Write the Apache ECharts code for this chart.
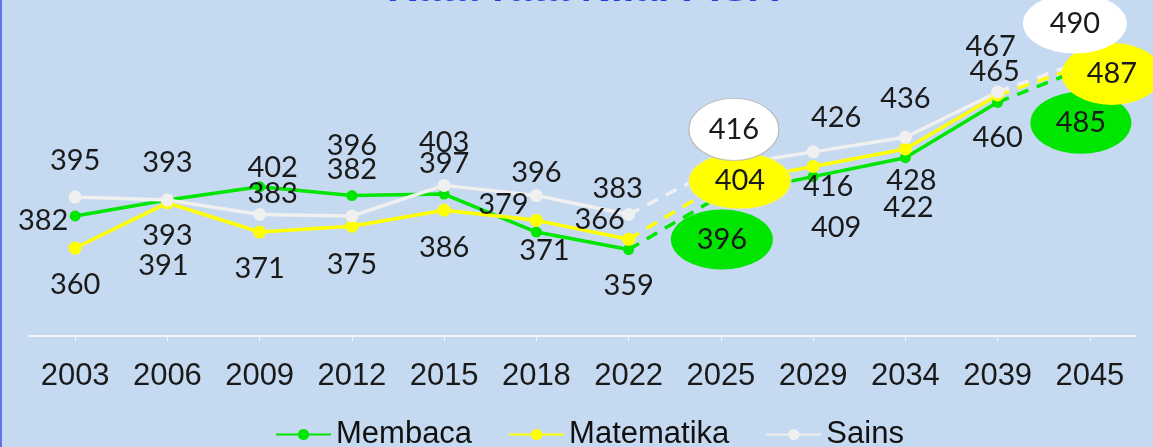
<!DOCTYPE html>
<html>
<head>
<meta charset="utf-8">
<script src="https://cdn.jsdelivr.net/npm/echarts@6/dist/echarts.min.js"></script>
<style>
html,body{margin:0;padding:0;background:#c5d9f0;}
#c{width:1153px;height:447px;}
</style>
</head>
<body>
<div id="c"></div>
<script>
// ---------- data ----------
const years = ['2003','2006','2009','2012','2015','2018','2022','2025','2029','2034','2039','2045'];
const membaca    = [382,393,402,396,397,371,359,396,409,422,460,485];
const matematika = [360,391,371,375,386,379,366,404,416,428,465,487];
const sains      = [395,393,383,382,403,396,383,416,426,436,467,490];
const seriesNames = ['Membaca','Matematika','Sains'];
const titleText = 'Rata-rata Nilai PISA';

// ---------- styling ----------
const colors = {Membaca:'#00e600', Matematika:'#ffff00', Sains:'#f0f0f0'};
const bubbleColors = {Membaca:'#00e600', Matematika:'#ffff00', Sains:'#ffffff'};
const symbolSizes = {Membaca:11, Matematika:13, Sains:13};
const bubbleBorder = {Membaca:null, Matematika:'#e6e6b0', Sains:'#b8b8b8'};
// label offsets (px) relative to each point; null -> shown in bubble
const labelOffsets = {
  Membaca:    [[-32,5],[0,36],[13,-19],[0,-50],[0,-30],[8,19],[0,36],null,[23,51],[3,50],[0,35],null],
  Matematika: [[0,37],[-4,63],[0,37],[0,38],[0,37],[-33,-16],[-29,-20],null,[15,20],[6,32],[-3,-23],null],
  Sains:      [[0,-36],[0,-37],[13,-21],[0,-46],[0,-43],[0,-23],[-11,-26],null,[23,-34],[0,-39],[-7,-45],null]
};
const bubbles = {
  Membaca:    {7:{offset:[1,44],  size:[102,60]}, 11:{offset:[-9,57], size:[101,62]}},
  Matematika: {7:{offset:[19,-3], size:[102,56]}, 11:{offset:[22,11], size:[100,62]}},
  Sains:      {7:{offset:[13,-37],size:[90,62]},  11:{offset:[-15,-35],size:[104,60]}}
};
const solidA = [0,1,2,3,4,5,6];
const solidB = [7,8,9,10];
const dashed = [6,7,10,11];
const labelFont = {fontFamily:'Lato, "Open Sans", sans-serif', fontSize:29, color:'#1a1a1a'};
const ellipsePath = 'path://M0,50 A50,50 0 1,1 100,50 A50,50 0 1,1 0,50 Z';

const valuesByName = {Membaca:membaca, Matematika:matematika, Sains:sains};

function build(idxs, name, withLabels) {
  const vals = valuesByName[name];
  return vals.map((v,i) => {
    if (!idxs.includes(i)) return '-';
    const off = labelOffsets[name][i];
    if (!withLabels || !off) return {value:v, label:{show:false}};
    return {value:v, label:{show:true, offset:off}};
  });
}

const series = [];
seriesNames.forEach(name => {
  const c = colors[name];
  const common = {
    type:'line', name, color:c,
    symbol:'circle', symbolSize:symbolSizes[name],
    itemStyle:{color:c},
    lineStyle:{color:c, width:3.5},
    emphasis:{disabled:true},
    label:{show:true, position:'inside', ...labelFont},
    animation:false
  };
  series.push({...common, data:build(solidA, name, true)});
  series.push({...common, data:build(solidB, name, true)});
  const vals = valuesByName[name];
  series.push({
    ...common,
    showSymbol:false,
    lineStyle:{color:c, width:3.5, type:[12,9]},
    label:{show:false},
    data:build(dashed, name, false),
    markPoint:{
      symbol: ellipsePath,
      animation:false,
      emphasis:{disabled:true},
      label:{show:true, position:'inside', formatter:'{c}', ...labelFont},
      data:[7,11].map(i => ({
        coord:[years[i], vals[i]],
        value:vals[i],
        symbolSize:bubbles[name][i].size,
        symbolOffset:bubbles[name][i].offset,
        itemStyle:{color:bubbleColors[name], borderColor:(i===7 && bubbleBorder[name]) || bubbleColors[name], borderWidth:(i===7 && bubbleBorder[name])?1:0}
      }))
    }
  });
});

const chart = echarts.init(document.getElementById('c'), null, {renderer:'canvas'});
chart.setOption({
  backgroundColor:'#c5d9f0',
  animation:false,
  graphic:[
    {type:'rect', left:0, top:0, shape:{width:2, height:447}, style:{fill:'#5f72e8'}, silent:true},
    {type:'text', x:583, y:10, style:{text:titleText, fill:'#1f3fe0', font:'bold 42px "Liberation Sans", Arial, sans-serif', align:'center', verticalAlign:'bottom'}, silent:true}
  ],
  grid:{left:29, right:17, top:44, bottom:111.5, outerBoundsMode:'none', containLabel:false},
  legend:{
    data:seriesNames,
    left:270, top:414,
    itemWidth:55, itemHeight:14, itemGap:36,
    textStyle:{fontFamily:'"Liberation Sans", Arial, sans-serif', fontSize:31, color:'#111'},
    selectedMode:false
  },
  xAxis:{
    type:'category', data:years, boundaryGap:true,
    axisLine:{lineStyle:{color:'#f4f4f4', width:2}},
    axisTick:{show:true, alignWithLabel:true, length:6, lineStyle:{color:'#f4f4f4', width:1}},
    axisLabel:{interval:0, margin:25, fontFamily:'"Liberation Sans", Arial, sans-serif', fontSize:31, color:'#1a1a1a'},
    splitLine:{show:false}
  },
  yAxis:{type:'value', min:300, max:500, show:false, splitLine:{show:false}},
  series
});
</script>
</body>
</html>
